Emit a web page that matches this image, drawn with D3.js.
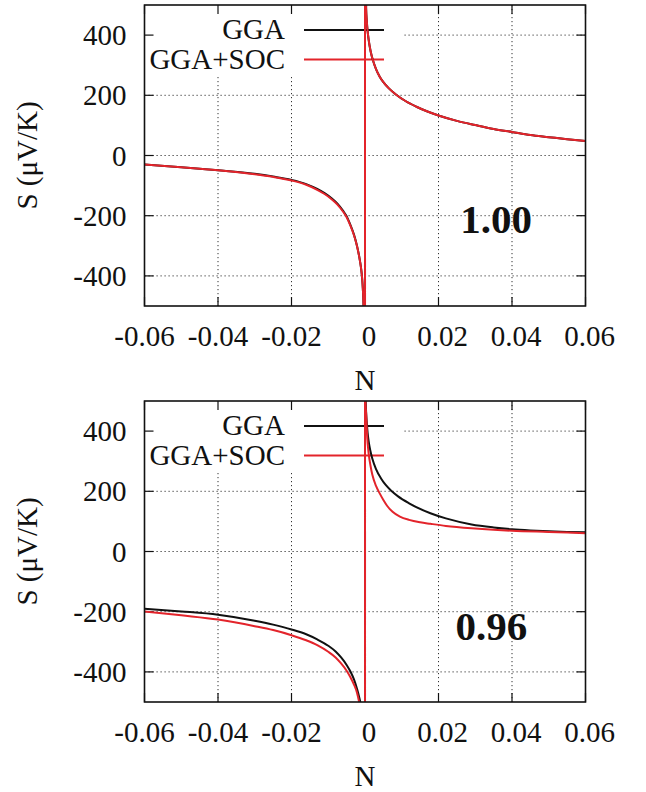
<!DOCTYPE html>
<html>
<head>
<meta charset="utf-8">
<script src="https://cdn.jsdelivr.net/npm/d3@7"></script>
<style>
  body { margin: 0; background: #fff; }
  svg { display: block; }
</style>
</head>
<body>
<script>
// ticks
const xTicks = [-0.06, -0.04, -0.02, 0, 0.02, 0.04, 0.06];
const yTicks = [-400, -200, 0, 200, 400];
const seriesNames = ["GGA", "GGA+SOC"];
const panelLabels = ["1.00", "0.96"];
// label anchor position in data units (N, S)
const labelN = [0.0259, 0.0246];
const labelS = [-256, -293];

// panel 1.00
const nTop = [-0.06, -0.05, -0.04, -0.03, -0.025, -0.02, -0.016, -0.013, -0.011, -0.009,
  -0.0075, -0.006, -0.005, -0.004, -0.003, -0.0022, -0.0016, -0.0011, -0.0008, -0.0006,
  -0.0004, -0.0002, 0, 0.00001, 0.0003, 0.0005, 0.0007, 0.001, 0.0015, 0.002,
  0.003, 0.004, 0.005, 0.0065, 0.0085, 0.011, 0.014, 0.017, 0.02, 0.025,
  0.03, 0.035, 0.04, 0.045, 0.05, 0.055, 0.06];
const sTopGGA = [-30, -39, -49, -61, -70, -81, -95, -111, -125, -143,
  -160, -183, -202, -230, -263, -299, -334, -372, -405, -440,
  -500, -650, -5000, 5000, 490, 445, 415, 384, 348, 323,
  287, 262, 244, 223, 202, 181, 162, 146, 133, 115,
  101, 88, 78, 68, 61, 54, 48];
const sTopSOC = [-30, -39, -49, -62, -71, -83, -97, -114, -128, -146,
  -163, -186, -205, -232, -265, -300, -335, -372, -405, -440,
  -500, -650, -5000, 5000, 490, 445, 415, 384, 348, 323,
  287, 262, 244, 223, 202, 181, 162, 146, 133, 115,
  101, 88, 78, 68, 61, 54, 48];

// panel 0.96
const nBotGGA = [-0.06, -0.05, -0.04, -0.03, -0.025, -0.02, -0.016, -0.013, -0.01, -0.008,
  -0.0065, -0.005, -0.004, -0.003, -0.0022, -0.0016, -0.0012, -0.0008, -0.0004, 0,
  0.00001, 0.00015, 0.00025, 0.0004, 0.0007, 0.001, 0.0014, 0.002, 0.003, 0.0045,
  0.0073, 0.009, 0.012, 0.0178, 0.022, 0.029, 0.035, 0.04, 0.045, 0.05,
  0.055, 0.06];
const sBotGGA = [-190, -199, -210, -230, -243, -259, -275, -292, -313, -332,
  -352, -377, -398, -425, -455, -483, -507, -545, -650, -5000,
  5000, 530, 480, 443, 396, 366, 338, 308, 274, 240,
  200, 183, 160, 127, 110, 90, 80, 74, 70, 67,
  65, 64];
const nBotSOC = [-0.06, -0.05, -0.04, -0.03, -0.025, -0.02, -0.016, -0.013, -0.01, -0.008,
  -0.0065, -0.005, -0.004, -0.003, -0.0022, -0.0016, -0.0012, -0.0008, -0.0004, 0,
  0.00001, 0.0001, 0.0003, 0.0006, 0.001, 0.0015, 0.002, 0.003, 0.004, 0.005,
  0.006, 0.0075, 0.0095, 0.012, 0.015, 0.0178, 0.022, 0.029, 0.035, 0.04,
  0.05, 0.06];
const sBotSOC = [-199, -212, -226, -248, -261, -278, -295, -311, -333, -352,
  -372, -396, -417, -442, -468, -500, -530, -580, -700, -5000,
  5000, 510, 460, 380, 325, 285, 255, 218, 193, 171,
  152, 132, 116, 105, 97, 92, 85, 77, 72, 69,
  65, 61];

const colors = ["#111111", "#e3242b"];

function main() {
    let left = 144.5;
    let width = 441;
    let height = 301;
    let tops = [5, 401];

    let svg = d3.select("body").append("svg")
        .attr("width", 646)
        .attr("height", 792);

    let x = d3.scaleLinear().domain([-0.06, 0.06]).range([0, width]);
    let y = d3.scaleLinear().domain([-500, 500]).range([height, 0]);

    let panels = [
        [d3.zip(nTop, sTopGGA), d3.zip(nTop, sTopSOC)],
        [d3.zip(nBotGGA, sBotGGA), d3.zip(nBotSOC, sBotSOC)]
    ];

    let line = d3.line()
        .x(d => x(d[0]))
        .y(d => y(d[1]))
        .curve(d3.curveMonotoneX);

    // every label goes through here so the serif face is set inline
    function label(g, size) {
        return g.append("text")
            .style("font-family", "Liberation Serif")
            .style("font-size", size)
            .attr("fill", "#111");
    }

    panels.forEach(function(series, p) {
        let g = svg.append("g")
            .attr("transform", "translate(" + left + "," + tops[p] + ")");

        g.append("clipPath").attr("id", "clip" + p)
            .append("rect").attr("width", width).attr("height", height);

        // dotted grid
        let grid = g.append("g")
            .attr("stroke", "#333")
            .attr("stroke-width", 1)
            .attr("stroke-dasharray", "1.2,2.8");
        grid.selectAll(".gx").data(xTicks.slice(1, -1)).enter().append("line")
            .attr("x1", d => x(d)).attr("x2", d => x(d))
            .attr("y1", 0).attr("y2", height);
        grid.selectAll(".gy").data(yTicks).enter().append("line")
            .attr("x1", 0).attr("x2", width)
            .attr("y1", d => y(d)).attr("y2", d => y(d));

        // key background hides the grid
        g.append("rect")
            .attr("x", 0.5).attr("y", 0)
            .attr("width", 257).attr("height", 70)
            .attr("fill", "#fff");

        // inward ticks on all four sides
        let ticks = g.append("g").attr("stroke", "#111").attr("stroke-width", 1.2);
        xTicks.forEach(function(t) {
            ticks.append("line").attr("x1", x(t)).attr("x2", x(t)).attr("y1", height).attr("y2", height - 9);
            ticks.append("line").attr("x1", x(t)).attr("x2", x(t)).attr("y1", 0).attr("y2", 9);
        });
        yTicks.forEach(function(t) {
            ticks.append("line").attr("x1", 0).attr("x2", 9).attr("y1", y(t)).attr("y2", y(t));
            ticks.append("line").attr("x1", width).attr("x2", width - 9).attr("y1", y(t)).attr("y2", y(t));
        });

        // tick labels
        xTicks.forEach(function(t) {
            label(g, "29px")
                .attr("x", x(t) + (t >= 0 ? 4 : 0))
                .attr("y", height + 40)
                .attr("text-anchor", "middle")
                .text(t === 0 ? "0" : t.toFixed(2));
        });
        yTicks.forEach(function(t) {
            label(g, "29px")
                .attr("x", -18)
                .attr("y", y(t) + 10)
                .attr("text-anchor", "end")
                .text(t);
        });

        // axis titles
        label(g, "29px")
            .attr("transform", "translate(" + (37 - left) + "," + (height / 2) + ") rotate(-90)")
            .attr("text-anchor", "middle")
            .text("S (\u03bcV/K)");
        label(g, "29px")
            .attr("x", x(0))
            .attr("y", height + 84)
            .attr("text-anchor", "middle")
            .text("N");

        // key
        seriesNames.forEach(function(name, i) {
            let ky = 25 + i * 29.5;
            label(g, "29px")
                .attr("x", 140.5)
                .attr("y", ky + 9)
                .attr("text-anchor", "end")
                .text(name);
            g.append("line")
                .attr("x1", 159.5).attr("x2", 239.5)
                .attr("y1", ky).attr("y2", ky)
                .attr("stroke", colors[i])
                .attr("stroke-width", 2);
        });

        // curves
        g.append("g").attr("clip-path", "url(#clip" + p + ")")
            .selectAll("path").data(series).enter().append("path")
            .attr("d", line)
            .attr("fill", "none")
            .attr("stroke", (d, i) => colors[i])
            .attr("stroke-width", 2);

        // frame
        g.append("rect")
            .attr("width", width).attr("height", height)
            .attr("fill", "none")
            .attr("stroke", "#111")
            .attr("stroke-width", 1.6);

        // panel label
        label(g, "41px")
            .attr("x", x(labelN[p]))
            .attr("y", y(labelS[p]))
            .style("font-weight", "bold")
            .text(panelLabels[p]);
    });
}

main();
</script>
</body>
</html>
